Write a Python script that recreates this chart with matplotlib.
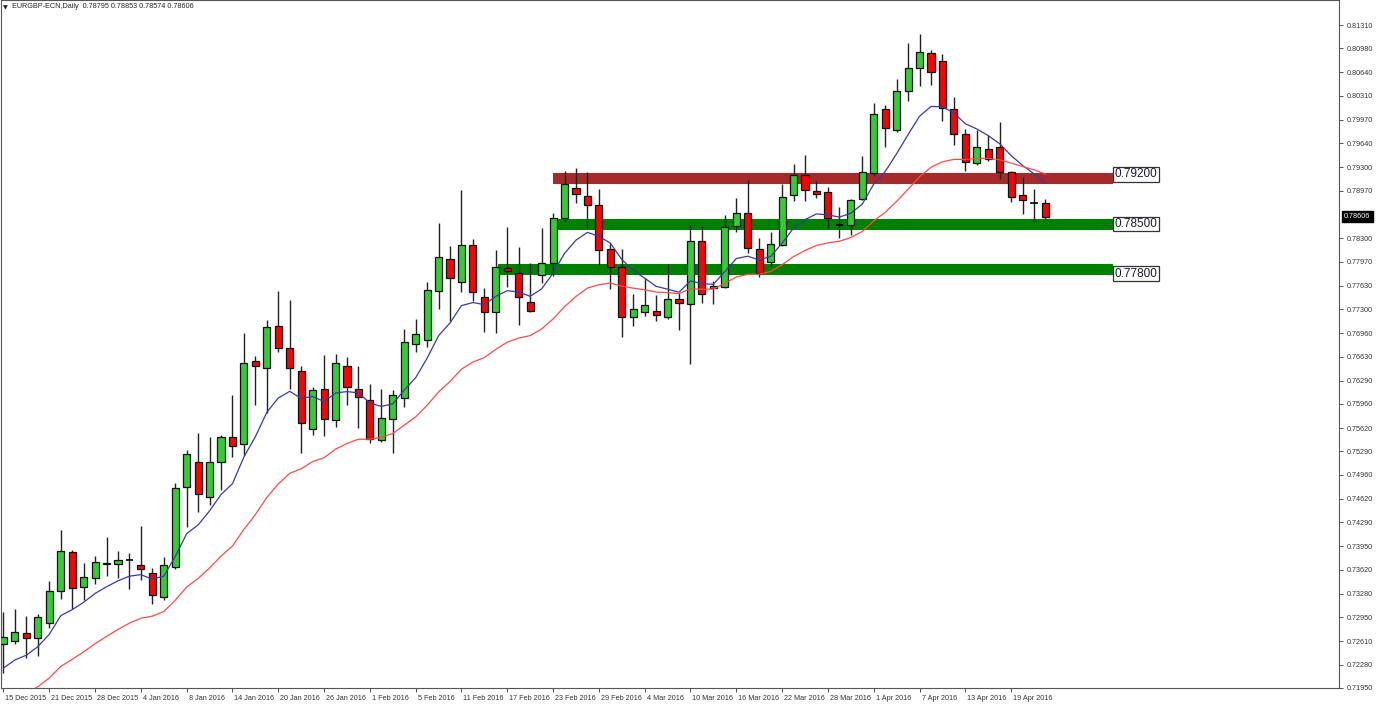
import numpy as np
import matplotlib
matplotlib.use("Agg")
import matplotlib.pyplot as plt
from matplotlib.patches import Rectangle
import matplotlib.transforms as mtransforms
from matplotlib import font_manager

installed = {f.name for f in font_manager.fontManager.ttflist}
narrow = 'Liberation Sans Narrow' if 'Liberation Sans Narrow' in installed else 'Liberation Sans'
plt.rcParams['font.family'] = [narrow, 'DejaVu Sans']
small_size = 6.0 if narrow == 'Liberation Sans Narrow' else 5.2

# ---------------- data (daily EURGBP candles, 15 Dec 2015 .. 22 Apr 2016) ----------------
opens = [0.72571, 0.72617, 0.72730, 0.72651, 0.72871, 0.73319, 0.73866, 0.73380, 0.73499, 0.73696,
         0.73696, 0.73757, 0.73682, 0.73569, 0.73235, 0.73654, 0.74784, 0.75141, 0.74647, 0.75141,
         0.75494, 0.75395, 0.76567, 0.76468, 0.77061, 0.76750, 0.76426, 0.75607, 0.76172, 0.75734,
         0.76496, 0.76172, 0.76016, 0.75451, 0.75748, 0.76044, 0.76807, 0.76863, 0.77554, 0.78006,
         0.77681, 0.78204, 0.77470, 0.77259, 0.77879, 0.77808, 0.77400, 0.77780, 0.77950, 0.78585,
         0.79009, 0.78896, 0.78768, 0.78147, 0.77893, 0.77188, 0.77259, 0.77273, 0.77188, 0.77441,
         0.77371, 0.78260, 0.77597, 0.77611, 0.78472, 0.78656, 0.78147, 0.77964, 0.78204, 0.78910,
         0.79192, 0.78966, 0.78952, 0.78486, 0.78486, 0.78853, 0.79220, 0.80124, 0.79828, 0.80378,
         0.80703, 0.80915, 0.80802, 0.80124, 0.79771, 0.79362, 0.79559, 0.79588, 0.79235, 0.78910,
         0.78797, 0.78795]
highs = [0.73023, 0.73065, 0.72966, 0.72994, 0.73460, 0.74180, 0.73898, 0.73719, 0.73818, 0.74086,
         0.73888, 0.73856, 0.74241, 0.73640, 0.73799, 0.74848, 0.75310, 0.75550, 0.75494, 0.75522,
         0.76087, 0.76962, 0.76637, 0.77146, 0.77554, 0.77428, 0.76496, 0.76200, 0.76652, 0.76666,
         0.76623, 0.76496, 0.76242, 0.76172, 0.76157, 0.77019, 0.77160, 0.77681, 0.78514, 0.78190,
         0.78980, 0.78288, 0.77597, 0.78133, 0.78458, 0.78176, 0.77950, 0.78444, 0.78656, 0.79249,
         0.79291, 0.79235, 0.78995, 0.78232, 0.78147, 0.77512, 0.77738, 0.77498, 0.77935, 0.77526,
         0.78486, 0.78472, 0.77695, 0.78627, 0.78867, 0.79122, 0.78303, 0.78387, 0.79065, 0.79347,
         0.79475, 0.79107, 0.79023, 0.78740, 0.78853, 0.79460, 0.80209, 0.80180, 0.80548, 0.81056,
         0.81183, 0.80957, 0.80901, 0.80294, 0.79842, 0.79828, 0.79757, 0.79940, 0.79249, 0.79164,
         0.78995, 0.78853]
lows = [0.72162, 0.72571, 0.72373, 0.72401, 0.72797, 0.73206, 0.73065, 0.73192, 0.73414, 0.73531,
        0.73499, 0.73352, 0.73470, 0.73131, 0.73192, 0.73626, 0.74219, 0.74435, 0.74533, 0.74745,
        0.75211, 0.75240, 0.75945, 0.75833, 0.76694, 0.76172, 0.75268, 0.75522, 0.75508, 0.75635,
        0.75945, 0.75621, 0.75409, 0.75423, 0.75268, 0.75917, 0.76694, 0.76765, 0.77298, 0.77132,
        0.77540, 0.77414, 0.76976, 0.76962, 0.77611, 0.77075, 0.77259, 0.77667, 0.77766, 0.78528,
        0.78797, 0.78444, 0.77921, 0.77583, 0.76906, 0.77061, 0.77202, 0.77132, 0.77160, 0.77004,
        0.76524, 0.77386, 0.77371, 0.77597, 0.78387, 0.78091, 0.77752, 0.77907, 0.78190, 0.78825,
        0.78825, 0.78867, 0.78444, 0.78303, 0.78345, 0.78839, 0.79178, 0.79588, 0.79799, 0.80237,
        0.80449, 0.80463, 0.79955, 0.79616, 0.79249, 0.79333, 0.79390, 0.79136, 0.78811, 0.78641,
        0.78543, 0.78574]
closes = [0.72669, 0.72744, 0.72651, 0.72952, 0.73319, 0.73888, 0.73357, 0.73521, 0.73724, 0.73710,
          0.73757, 0.73757, 0.73626, 0.73259, 0.73682, 0.74778, 0.75254, 0.74689, 0.75141, 0.75494,
          0.75367, 0.76539, 0.76496, 0.77047, 0.76750, 0.76468, 0.75691, 0.76157, 0.75748, 0.76539,
          0.76200, 0.76059, 0.75465, 0.75762, 0.76087, 0.76835, 0.76948, 0.77568, 0.78034, 0.77738,
          0.78204, 0.77540, 0.77259, 0.77893, 0.77837, 0.77470, 0.77273, 0.77950, 0.78585, 0.79065,
          0.78924, 0.78768, 0.78133, 0.77893, 0.77188, 0.77301, 0.77357, 0.77216, 0.77441, 0.77386,
          0.78260, 0.77512, 0.77625, 0.78458, 0.78656, 0.78161, 0.77808, 0.78218, 0.78882, 0.79192,
          0.78980, 0.78924, 0.78585, 0.78486, 0.78839, 0.79235, 0.80053, 0.79856, 0.80378, 0.80703,
          0.80929, 0.80647, 0.80138, 0.79771, 0.79376, 0.79588, 0.79418, 0.79235, 0.78882, 0.78839,
          0.78797, 0.78606]

date_labels = ["15 Dec 2015", "21 Dec 2015", "28 Dec 2015", "4 Jan 2016", "8 Jan 2016",
               "14 Jan 2016", "20 Jan 2016", "26 Jan 2016", "1 Feb 2016", "5 Feb 2016",
               "11 Feb 2016", "17 Feb 2016", "23 Feb 2016", "29 Feb 2016", "4 Mar 2016",
               "10 Mar 2016", "16 Mar 2016", "22 Mar 2016", "28 Mar 2016", "1 Apr 2016",
               "7 Apr 2016", "13 Apr 2016", "19 Apr 2016"]
price_ticks = [0.81310, 0.80980, 0.80640, 0.80310, 0.79970, 0.79640, 0.79300, 0.78970,
               0.78300, 0.77970, 0.77630, 0.77300, 0.76960, 0.76630, 0.76290, 0.75960,
               0.75620, 0.75290, 0.74960, 0.74620, 0.74290, 0.73950, 0.73620, 0.73280,
               0.72950, 0.72610, 0.72280, 0.71950]

# moving averages (EMA 8 blue, EMA 21 red) start values read at the first bar
ema_fast_start = 0.72232
ema_slow_start = 0.71696

# support / resistance zones: (low, high, label value)
zone_resist = (0.79079, 0.79221, "0.79200")
zone_support1 = (0.78430, 0.78569, "0.78500")
zone_support2 = (0.77795, 0.77929, "0.77800")

symbol_header = "EURGBP-ECN,Daily  0.78795 0.78853 0.78574 0.78606"
last_price = "0.78606"

# ---------------- figure ----------------
W, H = 1377, 705
fig = plt.figure(figsize=(W / 100, H / 100), dpi=100)
ax = fig.add_axes([0.5 / W, 17 / H, 1339 / W, 688 / H])

o = np.array(opens); h = np.array(highs); l = np.array(lows); c = np.array(closes)
n = len(o)
x = np.arange(n)


def ema(vals, period, start):
    a = 2.0 / (period + 1)
    out = [start]
    for v in vals[1:]:
        out.append(out[-1] + a * (v - out[-1]))
    return np.array(out)

ema_fast = ema(c, 8, ema_fast_start)
ema_slow = ema(c, 21, ema_slow_start)

# zones
def zone(z, x0, x1, color):
    ax.add_patch(Rectangle((x0, z[0]), x1 - x0, z[1] - z[0], facecolor=color,
                           edgecolor=color, alpha=1.0, lw=0.8, zorder=1))

zone(zone_resist, 48.0, 96.85, '#a52a2a')
zone(zone_support1, 48.3, 96.85, '#008000')
zone(zone_support2, 43.2, 96.85, '#008000')

# wicks
ax.vlines(x, l, h, color='#222222', lw=1.0, zorder=3)
# bodies
up = c > o
down = c < o
flat = c == o
bw = 0.62
ax.bar(x[up], (c - o)[up], bottom=o[up], width=bw, color='#32cd32', edgecolor='#111111', lw=0.9, zorder=4)
ax.bar(x[down], (o - c)[down], bottom=c[down], width=bw, color='#ff0000', edgecolor='#111111', lw=0.9, zorder=4)
ax.hlines(o[flat], x[flat] - bw / 2, x[flat] + bw / 2, color='black', lw=1.2, zorder=4)

# moving averages
ax.plot(x, ema_fast, color='#3a3aa8', lw=0.9, zorder=5)
ax.plot(x, ema_slow, color='#ff4a4a', lw=0.9, zorder=5)

# zone labels
for z in (zone_resist, zone_support1, zone_support2):
    yc = float(z[2])
    ax.plot([96.4, 97.0], [yc, yc], color='#555555', lw=1.0, zorder=6)
    ax.text(97.05, yc, z[2], fontsize=8.5, color='#1a1a30', ha='left', va='center', zorder=7,
            family=['Liberation Sans', 'DejaVu Sans'],
            bbox=dict(boxstyle='square,pad=0.12', facecolor='white', edgecolor='#333333', lw=0.9))

# axes limits / ticks
ax.set_xlim(-0.26, 116.68)
ax.set_ylim(0.71950, 0.81663)
ax.yaxis.tick_right()
ax.set_yticks(price_ticks)
ax.set_yticklabels([f"{p:.5f}" for p in price_ticks])
ax.tick_params(axis='y', which='both', labelsize=small_size, colors='#333333', length=3, width=0.6,
               pad=2.5, labelcolor='#333333')
ax.set_xticks(np.arange(len(date_labels)) * 4)
ax.set_xticklabels(date_labels)
for t in ax.get_xticklabels():
    t.set_ha('left')
ax.tick_params(axis='x', labelsize=small_size, colors='#333333', length=3, width=0.6, pad=2.0)
offset = mtransforms.ScaledTranslation(2 / 100, 0, fig.dpi_scale_trans)
for t in ax.get_xticklabels():
    t.set_transform(t.get_transform() + offset)
for s in ax.spines.values():
    s.set_color('#555555')
    s.set_linewidth(0.8)

# current price tag
trans = mtransforms.blended_transform_factory(ax.transAxes, ax.transData)
ax.text(1.0035, float(last_price), last_price, transform=trans, fontsize=small_size, color='white',
        ha='left', va='center', zorder=10, clip_on=False,
        bbox=dict(boxstyle='square,pad=0.3', facecolor='black', edgecolor='black'))

# header
ax.text(0.0022, 0.9925, "\u25BC", transform=ax.transAxes, fontsize=4.5, color='#222222',
        ha='left', va='top', family='DejaVu Sans')
ax.text(0.0088, 0.995, symbol_header, transform=ax.transAxes, fontsize=small_size, color='#222222',
        ha='left', va='top')

fig.savefig("out.png", dpi=100, facecolor='white')
